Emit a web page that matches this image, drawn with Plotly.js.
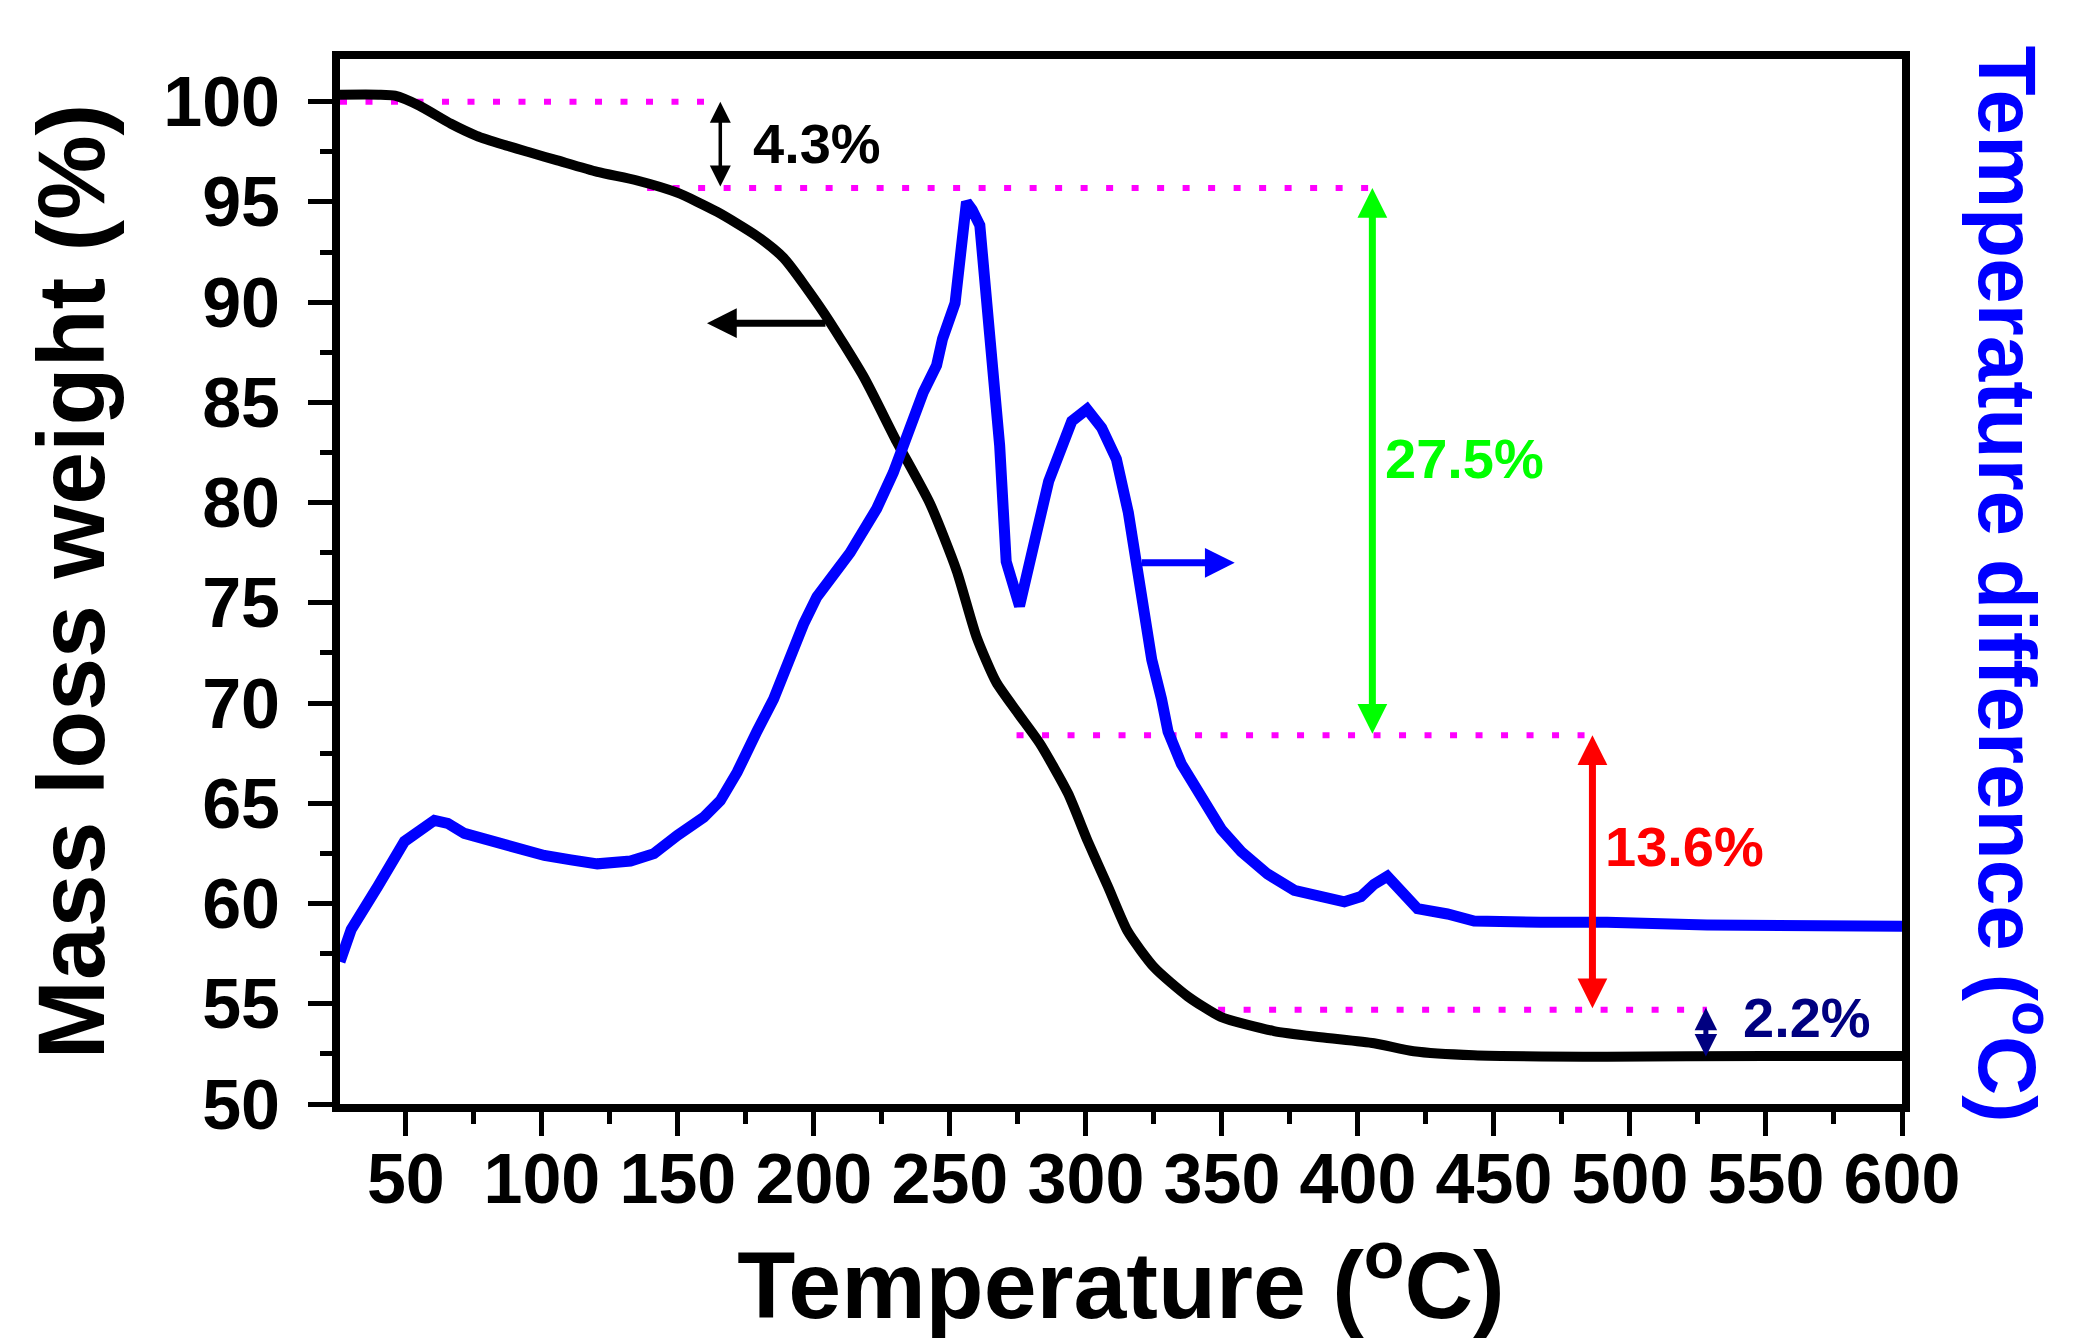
<!DOCTYPE html>
<html><head><meta charset="utf-8">
<script src="https://cdn.plot.ly/plotly-3.0.1.min.js"></script>
<style>html,body{margin:0;padding:0;background:#fff}#chart{width:2078px;height:1340px}</style>
</head><body><div id="chart"></div><script>
// TGA: mass loss weight (%) vs temperature
const tgaTemp = [25.8, 40, 46, 55, 66.6, 76, 86, 96, 105.7, 120.4, 135, 149.8, 164.5, 179, 188.9, 203.5, 218.2, 230.4, 242.7, 252.5, 259.8, 267, 275, 283, 293.4, 300.7, 308.1, 315.4, 325.2, 337.4, 349.6, 369.1, 386.3, 405.9, 420.5, 442.5, 491.6, 550, 600];
const tgaWeight = [100.35, 100.35, 100.3, 99.8, 98.9, 98.3, 97.85, 97.45, 97.07, 96.5, 96.07, 95.46, 94.5, 93.3, 92.2, 89.5, 86.3, 83.05, 79.95, 76.6, 73.3, 71.05, 69.5, 68.0, 65.5, 63.1, 60.85, 58.6, 56.8, 55.37, 54.35, 53.64, 53.33, 53.03, 52.63, 52.43, 52.36, 52.4, 52.4];
// DTA: temperature difference (plotted in the same vertical units as the left axis)
const dtaTemp = [25.8, 29.9, 39.7, 49.5, 60.5, 65.4, 71.5, 86.2, 100.9, 110.7, 120.4, 132.6, 141.2, 149.8, 159.5, 165.6, 171.8, 179.1, 185.2, 196.2, 201.1, 213.3, 223.1, 229.2, 235.3, 240.2, 245.1, 247.3, 251.9, 253.6, 256.1, 258.2, 261, 264.6, 268.3, 270.7, 275.6, 281.7, 286.3, 294.8, 300.4, 305.8, 311.2, 315.6, 320.5, 324.2, 327.8, 330.2, 335.1, 342.4, 349.8, 357.1, 366.8, 376.6, 386.4, 395, 401.1, 405.9, 410.8, 417, 421.9, 432.9, 442.7, 467.2, 491.6, 528.3, 552.8, 577.3, 600];
const dtaDiff = [57.1, 58.7, 60.86, 63.1, 64.15, 64.0, 63.5, 62.9, 62.4, 62.18, 61.98, 62.12, 62.49, 63.4, 64.3, 65.13, 66.55, 68.6, 70.2, 73.94, 75.3, 77.5, 79.7, 81.5, 83.7, 85.5, 86.84, 88.17, 89.95, 91.73, 95.0, 94.6, 93.84, 88.4, 82.84, 77.06, 74.84, 78.4, 81.06, 84.06, 84.66, 83.73, 82.17, 79.5, 75.28, 72.17, 70.2, 68.58, 66.96, 65.33, 63.7, 62.59, 61.47, 60.66, 60.29, 60.09, 60.35, 60.96, 61.36, 60.45, 59.74, 59.48, 59.13, 59.07, 59.07, 58.93, 58.9, 58.8, 58.87];

// Dotted guide levels (%)
const guideLevel = [100, 95.7, 68.4, 54.7];
const guideStart = [25.8, 138.7, 274.5, 348.6];
const guideEnd = [165.6, 404, 486.7, 528.3];

// Double arrows for mass-loss steps
const stepX = [165.6, 405.3, 486.2, 527.9];
const stepTop = [100, 95.7, 68.4, 54.8];
const stepBottom = [95.7, 68.4, 54.7, 52.3];
const stepColor = ['#000000', '#00FF00', '#FF0000', '#000080'];
const stepWidth = [3.5, 7, 7, 5];
const stepHead = [1.2, 0.85, 0.85, 0.9];

// Step labels
const stepLabel = ['4.3%', '27.5%', '13.6%', '2.2%'];
const labelX = [201, 439, 520, 565];
const labelY = [97.9, 82.2, 62.85, 54.3];

// Axis-pointing arrows: [tail x, head x, y]
const leftArrow = [204.8, 160.7, 88.95];
const rightArrow = [320, 354.7, 77.0];

const FONT = '"Liberation Sans", Arial, sans-serif';
const traces = [];
for (let i = 0; i < guideLevel.length; i++) {
  traces.push({x: [guideStart[i], guideEnd[i]], y: [guideLevel[i], guideLevel[i]], mode: 'lines',
    line: {color: '#FF00FF', width: 6, dash: '7px,18.5px'}, hoverinfo: 'skip', showlegend: false});
}
traces.push({x: tgaTemp, y: tgaWeight, mode: 'lines', name: 'Mass loss weight',
  line: {color: '#000000', width: 10, shape: 'spline', smoothing: 0.6}});
traces.push({x: dtaTemp, y: dtaDiff, yaxis: 'y2', mode: 'lines', name: 'Temperature difference',
  line: {color: '#0000FF', width: 11}});

const annotations = [];
for (let i = 0; i < stepX.length; i++) {
  annotations.push({x: stepX[i], y: stepTop[i], ax: stepX[i], ay: stepBottom[i], xref: 'x', yref: 'y', axref: 'x', ayref: 'y',
    text: '', showarrow: true, arrowhead: 2, startarrowhead: 2, arrowside: 'end+start',
    arrowsize: stepHead[i], startarrowsize: stepHead[i], arrowwidth: stepWidth[i], arrowcolor: stepColor[i], standoff: 0, startstandoff: 0});
  annotations.push({x: labelX[i], y: labelY[i], xref: 'x', yref: 'y', text: stepLabel[i], showarrow: false,
    font: {family: FONT, size: 56, weight: 'bold', color: stepColor[i]}, xanchor: 'center', yanchor: 'middle'});
}
annotations.push({x: leftArrow[1], y: leftArrow[2], ax: leftArrow[0], ay: leftArrow[2], xref: 'x', yref: 'y', axref: 'x', ayref: 'y',
  text: '', showarrow: true, arrowhead: 2, arrowsize: 0.85, arrowwidth: 7, arrowcolor: '#000000', standoff: 0});
annotations.push({x: rightArrow[1], y: rightArrow[2], ax: rightArrow[0], ay: rightArrow[2], xref: 'x', yref: 'y', axref: 'x', ayref: 'y',
  text: '', showarrow: true, arrowhead: 2, arrowsize: 0.85, arrowwidth: 7, arrowcolor: '#0000FF', standoff: 0});
annotations.push({xref: 'paper', yref: 'paper', x: 1.072, y: 0.4976, text: 'Temperature difference (<sup>o</sup>C)',
  textangle: 90, showarrow: false, xanchor: 'center', yanchor: 'middle',
  font: {family: FONT, size: 82, weight: 'bold', color: '#0000FF'}});

const axisCommon = {showgrid: false, zeroline: false, showline: true, linewidth: 8, linecolor: '#000', mirror: true,
  ticks: 'outside', ticklen: 24, tickwidth: 5, tickcolor: '#000',
  tickfont: {family: FONT, size: 70, weight: 'bold', color: '#000'}};

const layout = {
  width: 2078, height: 1340, margin: {l: 340, r: 176, t: 59, b: 236},
  paper_bgcolor: '#fff', plot_bgcolor: '#fff', showlegend: false,
  font: {family: FONT, color: '#000'},
  xaxis: Object.assign({}, axisCommon, {range: [25.8, 600], tick0: 0, dtick: 50, ticklabelstandoff: -17,
    minor: {tick0: 0, dtick: 25, ticks: 'outside', ticklen: 12, tickwidth: 5, tickcolor: '#000', showgrid: false},
    title: {text: 'Temperature (<sup>o</sup>C)', font: {family: FONT, size: 95, weight: 'bold', color: '#000'}, standoff: 30}}),
  yaxis: Object.assign({}, axisCommon, {range: [50, 102.13], tick0: 0, dtick: 5, ticklabelstandoff: 14,
    minor: {tick0: 0, dtick: 2.5, ticks: 'outside', ticklen: 12, tickwidth: 5, tickcolor: '#000', showgrid: false},
    title: {text: 'Mass loss weight (%)', font: {family: FONT, size: 95, weight: 'bold', color: '#000'}, standoff: 30}}),
  yaxis2: {range: [50, 102.13], overlaying: 'y', side: 'right', showline: false, showticklabels: false,
    ticks: '', showgrid: false, zeroline: false},
  annotations: annotations
};

Plotly.newPlot('chart', traces, layout, {displayModeBar: false, staticPlot: true});
</script></body></html>
